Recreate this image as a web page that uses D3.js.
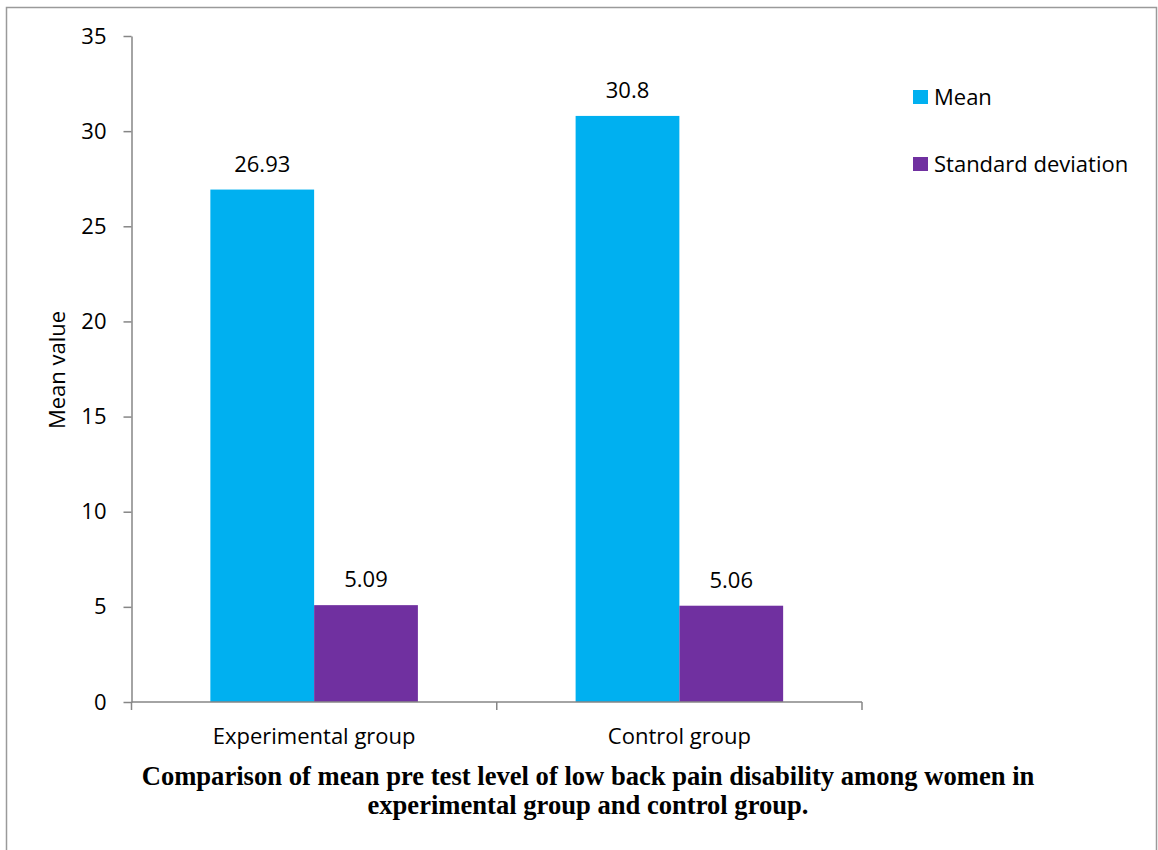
<!DOCTYPE html>
<html>
<head>
<meta charset="utf-8">
<script src="https://cdn.jsdelivr.net/npm/d3@7"></script>
<style>
  html, body { margin: 0; padding: 0; background: #fff; }
  svg { display: block; }
</style>
</head>
<body>
<svg id="chart" width="1158" height="850"></svg>
<script>
// Group labels along the x axis
const groups = ["Experimental group", "Control group"];
// Series names shown in the legend
const seriesNames = ["Mean", "Standard deviation"];
// Values per series, one entry per group
const meanValues = [26.93, 30.8];
const sdValues = [5.09, 5.06];
// Y axis ticks
const yTicks = [0, 5, 10, 15, 20, 25, 30, 35];
const seriesColors = ["#00B0F0", "#7030A0"];

const titleLines = [
  "Comparison of mean pre test level of low back pain disability among women in",
  "experimental group and control group."
];

const svg = d3.select("#chart");
const font = "'Open Sans', sans-serif";
const fontSize = 22;

// frame around the figure
svg.append("rect")
  .attr("x", 6.5).attr("y", 7.5)
  .attr("width", 1150).attr("height", 860)
  .attr("fill", "none").attr("stroke", "#9a9a9a").attr("stroke-width", 1.5);

const plot = { left: 131.5, right: 862, top: 36, bottom: 702 };

const y = d3.scaleLinear().domain([0, 35]).range([plot.bottom, plot.top]);
const x0 = d3.scaleBand().domain(groups).range([plot.left, plot.right]).padding(0);
const x1 = d3.scaleBand().domain(seriesNames)
  .range([0, x0.bandwidth()]).paddingOuter(0.76).paddingInner(0);

const table = groups.map((g, i) => ({
  group: g,
  values: [
    { series: seriesNames[0], value: meanValues[i] },
    { series: seriesNames[1], value: sdValues[i] }
  ]
}));
const color = d3.scaleOrdinal().domain(seriesNames).range(seriesColors);

// bars
const gGroups = svg.append("g").selectAll("g").data(table).join("g")
  .attr("transform", d => `translate(${x0(d.group)},0)`);

gGroups.selectAll("rect").data(d => d.values).join("rect")
  .attr("x", d => x1(d.series))
  .attr("y", d => y(d.value))
  .attr("width", x1.bandwidth())
  .attr("height", d => y(0) - y(d.value))
  .attr("fill", d => color(d.series));

gGroups.selectAll("text").data(d => d.values).join("text")
  .attr("x", d => x1(d.series) + x1.bandwidth() / 2)
  .attr("y", d => y(d.value) - 18)
  .attr("text-anchor", "middle")
  .attr("font-family", font).attr("font-size", fontSize).attr("fill", "#000")
  .text(d => d.value);

// y axis
const yAxis = svg.append("g")
  .attr("transform", `translate(${plot.left},0)`)
  .call(d3.axisLeft(y).tickValues(yTicks).tickSize(8).tickPadding(17).tickSizeOuter(0));
yAxis.select(".domain").attr("stroke", "#868686").attr("stroke-width", 1.5);
yAxis.selectAll(".tick line").attr("stroke", "#868686").attr("stroke-width", 1.5);
yAxis.selectAll(".tick text")
  .attr("font-family", font).attr("font-size", fontSize).attr("fill", "#000");

// x axis with ticks at group boundaries
const xAxisG = svg.append("g").attr("transform", `translate(0,${plot.bottom})`);
xAxisG.append("line")
  .attr("x1", plot.left).attr("x2", plot.right)
  .attr("stroke", "#868686").attr("stroke-width", 1.5);
const bounds = groups.map(g => x0(g)).concat([x0(groups[groups.length - 1]) + x0.bandwidth()]);
xAxisG.selectAll("line.tk").data(bounds).join("line").attr("class", "tk")
  .attr("x1", d => d).attr("x2", d => d).attr("y1", 0).attr("y2", 8)
  .attr("stroke", "#868686").attr("stroke-width", 1.5);
xAxisG.selectAll("text").data(groups).join("text")
  .attr("x", d => x0(d) + x0.bandwidth() / 2)
  .attr("y", 42)
  .attr("text-anchor", "middle")
  .attr("font-family", font).attr("font-size", fontSize).attr("fill", "#000")
  .text(d => d);

// y axis title
svg.append("text")
  .attr("transform", "translate(65,370) rotate(-90)")
  .attr("text-anchor", "middle")
  .attr("font-family", font).attr("font-size", fontSize).attr("fill", "#000")
  .text("Mean value");

// legend
const legend = svg.append("g").selectAll("g").data(seriesNames).join("g")
  .attr("transform", (d, i) => `translate(913,${90 + i * 67})`);
legend.append("rect").attr("width", 15).attr("height", 14).attr("fill", d => color(d));
legend.append("text")
  .attr("x", 21).attr("y", 15)
  .attr("font-family", font).attr("font-size", fontSize).attr("fill", "#000")
  .text(d => d);

// caption
svg.append("g").selectAll("text").data(titleLines).join("text")
  .attr("x", 588).attr("y", (d, i) => 785 + i * 29)
  .attr("text-anchor", "middle")
  .attr("font-family", "'Liberation Serif', 'Times New Roman', serif")
  .attr("font-weight", "bold").attr("font-size", 26.6).attr("fill", "#000")
  .text(d => d);
</script>
</body>
</html>
